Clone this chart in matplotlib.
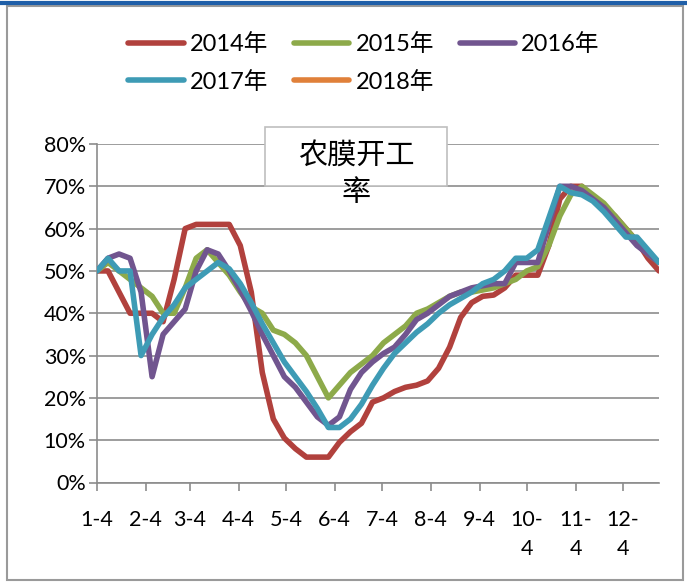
import matplotlib
matplotlib.use("Agg")
import matplotlib.pyplot as plt
from matplotlib.patches import Rectangle
from matplotlib.lines import Line2D
import numpy as np

plt.rcParams['font.family'] = ['Lato', 'Noto Sans CJK SC', 'DejaVu Sans']

# weekly operating rate of agricultural film plants, % (52 weeks from Jan 4)
rate_2014 = [50, 50, 45, 40, 40, 40, 38, 48, 60, 61, 61, 61, 61, 56, 45, 26, 15, 10.5,
             8, 6, 6, 6, 9.5, 12, 14, 19, 20, 21.5, 22.5, 23, 24, 27, 32, 39, 42.5, 44,
             44.3, 46, 49, 49, 49, 56, 67, 70, 70, 67, 65, 63, 60, 57, 53, 50]
rate_2015 = [50, 52, 50, 48, 46, 44, 40, 40, 46, 53, 55, 52, 49, 45, 41.5, 40, 36, 35,
             33, 30, 25, 20, 23, 26, 28, 30, 33, 35, 37, 40, 41, 42.5, 44, 45, 45, 45.5,
             46, 47, 48, 50, 51, 56, 63, 68, 70, 68, 66, 63, 60, 57, 54, 52]
rate_2016 = [50, 53, 54, 53, 45, 25, 35, 38, 41, 50, 55, 54, 50, 45.5, 40.5, 35, 30, 25,
             22.5, 19, 15.5, 13.5, 15.5, 22, 26, 28.5, 30.5, 32, 35, 38.5, 40, 42, 44,
             45, 46, 46.5, 47, 47, 52, 52, 52, 61, 70, 70, 69, 67, 65, 62, 59, 56, 54, 52]
rate_2017 = [50, 53, 50, 50, 30, 35, 39, 42, 46, 48, 50, 52, 50.5, 47, 42.5, 37.5, 33,
             28.5, 25, 21.5, 17.5, 13, 13, 15, 18.5, 23, 27, 30.5, 33, 35.5, 37.5, 40,
             42, 43.5, 45, 47, 48, 50, 53, 53, 55, 62.5, 70, 68.5, 68, 66.5, 64, 61, 58,
             58, 55, 52]
rate_2018 = []

years = ['2014年', '2015年', '2016年', '2017年', '2018年']
series = [rate_2014, rate_2015, rate_2016, rate_2017, rate_2018]
colors = ['#B1413D', '#8DAA4A', '#71558F', '#3E9BB5', '#E0803A']

month_labels = ['1-4', '2-4', '3-4', '4-4', '5-4', '6-4', '7-4', '8-4', '9-4',
                '10-\n4', '11-\n4', '12-\n4']
month_days = [0, 31, 59, 90, 120, 151, 181, 212, 243, 273, 304, 334]

fig = plt.figure(figsize=(6.87, 5.83), dpi=100)
ax = fig.add_axes([97 / 687, 1 - 482.5 / 583, 562 / 687, 338.5 / 583])

grid_c = '#8C8C8C'
handles = []
for name, vals, c in zip(years, series, colors):
    v = np.array(vals, dtype=float) / 100
    days = np.arange(len(v)) * 7
    line, = ax.plot(days, v, color=c, lw=4, label=name,
                    solid_joinstyle='round', solid_capstyle='round', zorder=3)
    handles.append(line)

ax.set_xlim(0, 357)
ax.set_ylim(0, 0.8)
ax.set_yticks(np.arange(0, 0.81, 0.1))
ax.set_yticklabels([f'{int(round(t * 100))}%' for t in np.arange(0, 0.81, 0.1)])
ax.set_xticks(month_days)
ax.set_xticklabels(month_labels, linespacing=1.55)
ax.grid(axis='y', color=grid_c, lw=1.2, zorder=1)
ax.set_axisbelow(True)

for side in ['top', 'right']:
    ax.spines[side].set_visible(False)
for side in ['left', 'bottom']:
    ax.spines[side].set_color(grid_c)
    ax.spines[side].set_linewidth(1.2)
ax.tick_params(axis='both', colors=grid_c, length=6, width=1.2, labelcolor='black',
               labelsize=15.5)
ax.tick_params(axis='x', pad=14)
ax.tick_params(axis='y', pad=2)

# legend: reorder so column-wise filling reads row by row
order = [0, 3, 1, 4, 2]
fig.legend([handles[i] for i in order], [years[i] for i in order],
           loc='upper center', bbox_to_anchor=(364 / 687, 1 - 12 / 583), ncol=3,
           frameon=False, fontsize=17, handlelength=2.35, handletextpad=0.25,
           columnspacing=1.1, labelspacing=0.65)

# boxed chart title inside the plot area
fig.add_artist(Rectangle((265 / 687, 1 - 186 / 583), 182 / 687, 59 / 583,
                         transform=fig.transFigure, facecolor='white',
                         edgecolor='#BFBFBF', lw=1.2, zorder=5))
fig.text(356 / 687, 1 - 157 / 583, '农膜开工', ha='center', va='center',
         fontsize=21, fontweight='light', family=['Noto Sans CJK SC'], zorder=6)
fig.text(356 / 687, 1 - 193 / 583, '率', ha='center', va='center',
         fontsize=21, fontweight='light', family=['Noto Sans CJK SC'], zorder=6)

# outer frame and top rule
fig.add_artist(Rectangle((7 / 687, 3 / 583), 676 / 687, 574 / 583,
                         transform=fig.transFigure, facecolor='none',
                         edgecolor='#9A9A9A', lw=1.5, zorder=0))
fig.add_artist(Line2D([0, 1], [1 - 2.5 / 583, 1 - 2.5 / 583], transform=fig.transFigure,
                      color='#1F5FA8', lw=3))

fig.savefig('out.png', dpi=100)
